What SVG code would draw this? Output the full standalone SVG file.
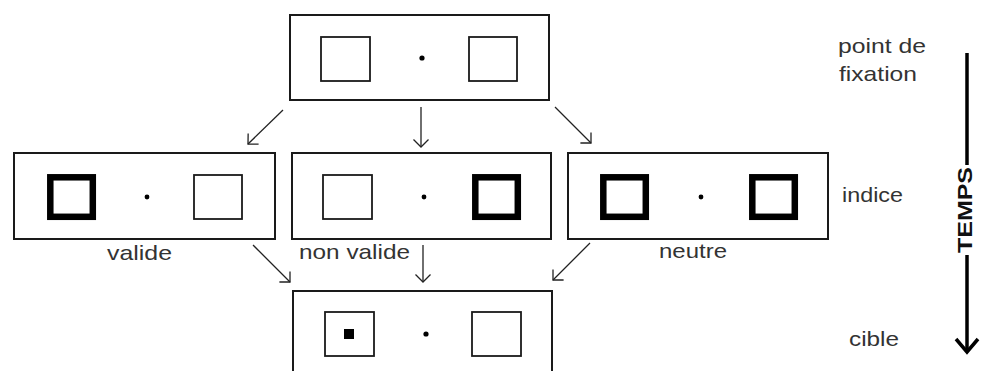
<svg xmlns="http://www.w3.org/2000/svg" width="982" height="371" viewBox="0 0 982 371">
<defs>
<style>
.frame{fill:#fff;stroke:#1a1a1a;stroke-width:2}
.thin{fill:#fff;stroke:#1a1a1a;stroke-width:1.8}
.thick{fill:#fff;stroke:#000;stroke-width:6.5}
.dot{fill:#000}
.lbl{font-family:"Liberation Sans",Arial,sans-serif;font-size:21px;fill:#333}
.conn{stroke:#222;stroke-width:1.3;fill:none;marker-end:url(#chev)}
</style>
<marker id="chev" markerUnits="userSpaceOnUse" markerWidth="12" markerHeight="18" viewBox="0 0 12 18" refX="9" refY="9" orient="auto">
<path d="M1.5,1.5 L9,9 L1.5,16.5" fill="none" stroke="#222" stroke-width="1.3"/>
</marker>
</defs>
<rect width="982" height="371" fill="#fff"/>

<g id="fixation">
<rect class="frame" x="290" y="15" width="259" height="85"/>
<rect class="thin" x="321" y="37" width="49" height="44"/>
<circle class="dot" cx="422" cy="58" r="2.6"/>
<rect class="thin" x="469" y="37" width="48" height="44"/>
</g>

<g id="valide">
<rect class="frame" x="14" y="153" width="261" height="86"/>
<rect class="thick" x="50.3" y="177.3" width="42.5" height="39.5"/>
<circle class="dot" cx="147" cy="197" r="2.4"/>
<rect class="thin" x="194" y="175" width="48" height="44"/>
<text class="lbl" x="107" y="260" textLength="65" lengthAdjust="spacingAndGlyphs">valide</text>
</g>

<g id="nonvalide">
<rect class="frame" x="292" y="153" width="259" height="86"/>
<rect class="thin" x="323" y="175" width="49" height="44"/>
<circle class="dot" cx="424" cy="197" r="2.4"/>
<rect class="thick" x="475.3" y="177.3" width="42.5" height="39.5"/>
<text class="lbl" x="299" y="259" textLength="111" lengthAdjust="spacingAndGlyphs">non valide</text>
</g>

<g id="neutre">
<rect class="frame" x="568" y="153" width="260" height="86"/>
<rect class="thick" x="603.3" y="177.3" width="42.5" height="39.5"/>
<circle class="dot" cx="701" cy="197" r="2.4"/>
<rect class="thick" x="752.3" y="177.3" width="42.5" height="39.5"/>
<text class="lbl" x="659" y="258" textLength="68" lengthAdjust="spacingAndGlyphs">neutre</text>
</g>

<g id="cible">
<rect class="frame" x="293" y="291" width="259" height="100"/>
<rect class="thin" x="325" y="312" width="49" height="44"/>
<rect class="dot" x="344" y="329" width="10" height="10"/>
<circle class="dot" cx="426" cy="334" r="2.6"/>
<rect class="thin" x="472" y="312" width="49" height="44"/>
</g>

<g id="connectors">
<line class="conn" x1="283" y1="110" x2="248" y2="144"/>
<line class="conn" x1="421" y1="107" x2="421" y2="147"/>
<line class="conn" x1="555" y1="107" x2="591" y2="143"/>
<line class="conn" x1="253" y1="245" x2="290" y2="282"/>
<line class="conn" x1="423" y1="245" x2="423" y2="282"/>
<line class="conn" x1="590" y1="243" x2="553" y2="280"/>
</g>

<g id="stages">
<text class="lbl" x="838" y="53" textLength="88" lengthAdjust="spacingAndGlyphs">point de</text>
<text class="lbl" x="839" y="81" textLength="78" lengthAdjust="spacingAndGlyphs">fixation</text>
<text class="lbl" x="842" y="202" textLength="61" lengthAdjust="spacingAndGlyphs">indice</text>
<text class="lbl" x="849" y="346" textLength="50" lengthAdjust="spacingAndGlyphs">cible</text>
</g>

<g id="temps">
<line x1="967" y1="53" x2="967" y2="165" stroke="#000" stroke-width="3.5"/>
<line x1="967" y1="255" x2="967" y2="352" stroke="#000" stroke-width="3.5"/>
<path d="M956,339 L967,352 L978,339" fill="none" stroke="#000" stroke-width="3.5"/>
<text x="0" y="0" transform="translate(972,253) rotate(-90)" font-family="'Liberation Sans',Arial,sans-serif" font-weight="bold" font-size="21" fill="#111" textLength="86" lengthAdjust="spacingAndGlyphs">TEMPS</text>
</g>
</svg>
